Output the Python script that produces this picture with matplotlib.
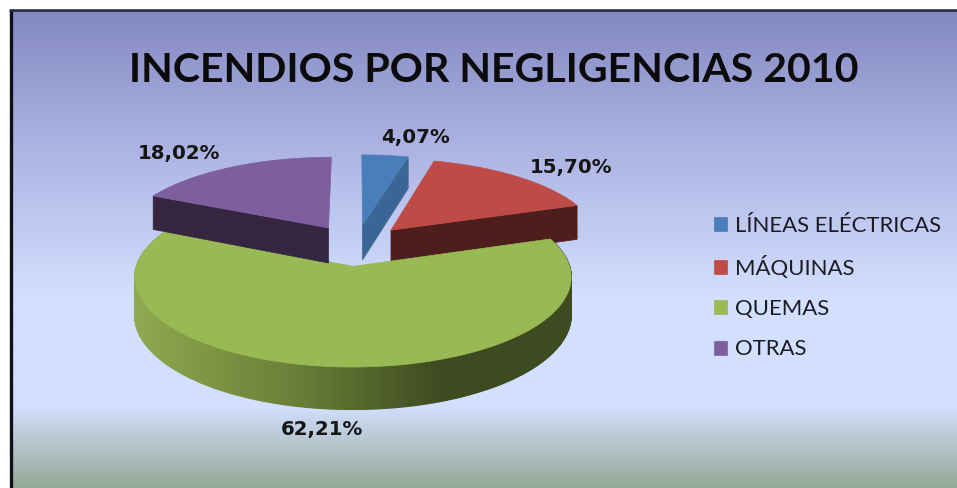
import numpy as np
from matplotlib import pyplot as plt
from matplotlib.colors import LinearSegmentedColormap
from matplotlib.patches import Patch, Polygon

categories = ['LÍNEAS ELÉCTRICAS', 'MÁQUINAS', 'QUEMAS', 'OTRAS']
values = [4.07, 15.70, 62.21, 18.02]
colors = ['#4A7EBB', '#BE4B48', '#98B954', '#7D5F9F']
wall_colors = ['#3A6594', '#4D1E1B', '#3E4A20', '#35253F']
label_pos = [(415, 138), (571, 167), (322, 429), (179, 153)]
title = 'INCENDIOS POR NEGLIGENCIAS 2010'

# pie geometry, in pixels
cx, cy = 356, 245
rx, ry = 210, 83
persp = 0.12
explode = 0.25
depth = 36

plt.rcParams['font.family'] = ['Lato', 'DejaVu Sans']

fig = plt.figure(figsize=(9.57, 4.88), dpi=100, facecolor='white')
ax = fig.add_axes([0, 0, 1, 1])
ax.axis('off')

# background
bg_stops = [(0, '#8488C1'), (0.25, '#A8AEDF'), (0.6, '#D3DFFF'), (0.83, '#D3DFFF'), (1, '#93A995')]
bg = LinearSegmentedColormap.from_list('bg', bg_stops)
ax.imshow(np.linspace(0, 1, 256).reshape(-1, 1), cmap=bg, aspect='auto',
          extent=[11, 957, 488, 10], zorder=0)
ax.plot([10.5, 10.5], [488, 10], color='#101018', lw=2.4, zorder=1, solid_capstyle='butt')
ax.plot([9, 957], [10, 10], color='#24243C', lw=1.8, zorder=1, solid_capstyle='butt')
ax.set_xlim(0, 957)
ax.set_ylim(488, 0)


def project(t, r, mid):
    # t is clockwise from the top, r is the fraction of the radius
    gx = r * np.sin(t) + explode * np.sin(mid)
    gy = r * np.cos(t) + explode * np.cos(mid)
    s = 1 / (1 + persp * gy)
    return cx + rx * gx * s, cy - ry * gy * s, s


def green_side(x):
    stops_x = [133, 300, 440, 571]
    stops = np.array([[0x8F, 0xA9, 0x4F], [0x68, 0x7E, 0x37], [0x3E, 0x4A, 0x20], [0x3E, 0x4A, 0x20]])
    return [np.interp(x, stops_x, stops[:, c]) / 255 for c in range(3)]


edges = np.radians(np.cumsum([0] + values) * 3.6)
mids = (edges[:-1] + edges[1:]) / 2

# back slices first, the big front one last
for i in [3, 0, 1, 2]:
    t0, t1, mid = edges[i], edges[i + 1], mids[i]
    ts = np.linspace(t0, t1, 240)
    ox, oy, os_ = project(ts, 1.0, mid)
    tx, ty, ts_ = project(0.0, 0.0, mid)
    if i == 2:
        for k in range(len(ts) - 1):
            quad = [(ox[k], oy[k]), (ox[k + 1], oy[k + 1]),
                    (ox[k + 1], oy[k + 1] + depth * os_[k + 1]), (ox[k], oy[k] + depth * os_[k])]
            col = green_side((ox[k] + ox[k + 1]) / 2)
            ax.add_patch(Polygon(quad, closed=True, fc=col, ec=col, lw=1.0, zorder=2 + i))
    else:
        # the cut side that faces the viewer
        j = 0 if i == 3 else -1
        wall = [(tx, ty), (ox[j], oy[j]), (ox[j], oy[j] + depth * os_[j]), (tx, ty + depth * ts_)]
        ax.add_patch(Polygon(wall, closed=True, fc=wall_colors[i], ec=wall_colors[i], lw=0.5, zorder=2 + i))
    top = np.column_stack([np.r_[tx, ox], np.r_[ty, oy]])
    ax.add_patch(Polygon(top, closed=True, fc=colors[i], ec=colors[i], lw=0.5, zorder=2.5 + i))

ax.text(494, 71, title, ha='center', va='center', fontsize=29.6, fontweight='bold', color='#0B0B0B', zorder=8)

for v, (x, y) in zip(values, label_pos):
    ax.text(x, y, f'{v:.2f}%'.replace('.', ','), ha='center', va='center', family='DejaVu Sans',
            fontsize=14.2, fontweight='bold', color='#151515', zorder=8)

handles = [Patch(fc=c, ec=c, lw=0.5) for c in colors]
ax.legend(handles, categories, loc='upper left', bbox_to_anchor=(714 / 957, 1 - 215.5 / 488), frameon=False,
          fontsize=15.9, handlelength=0.58, handleheight=0.58, handletextpad=0.36, labelspacing=0.92,
          borderpad=0, borderaxespad=0, labelcolor='#1C1C24').set_zorder(8)

fig.savefig('out.png', dpi=100, facecolor='white')
